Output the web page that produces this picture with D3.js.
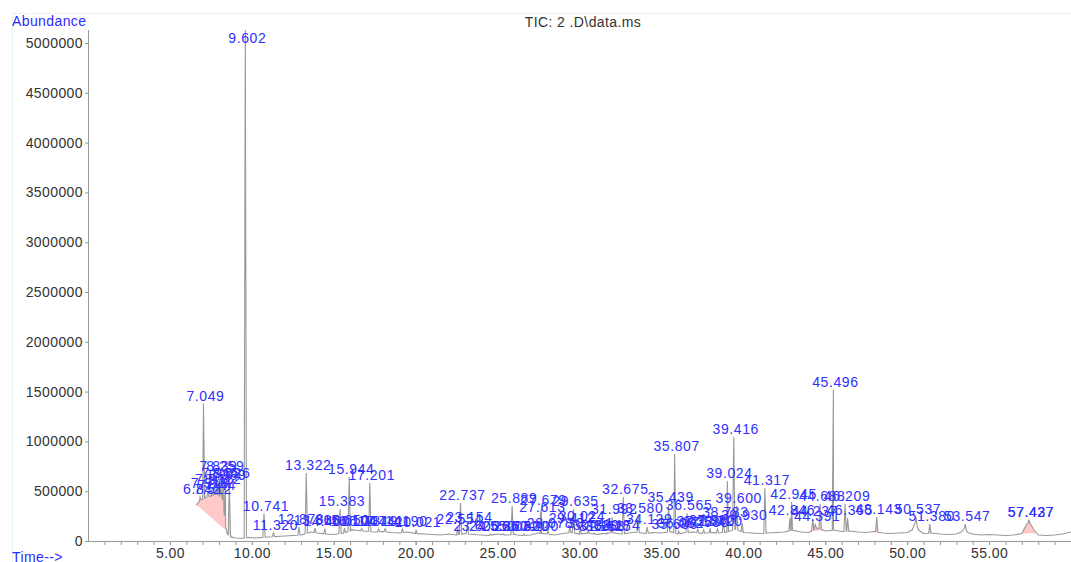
<!DOCTYPE html>
<html>
<head>
<meta charset="UTF-8">
<title>TIC: 2 .D\data.ms</title>
<script src="https://cdn.jsdelivr.net/npm/d3@7"></script>
<style>
    body{margin:0;background:#fff;}
    svg text{font-family:"Liberation Sans",Arial,sans-serif;}
    .frame{stroke:#e2f6e2;stroke-width:1;fill:none;}
    .blue{fill:#2b2bff;font-size:14px;letter-spacing:0.4px;}
    .titulo{fill:#333;font-size:14px;letter-spacing:0.4px;}
    .eje text{fill:#333;font-size:14px;letter-spacing:0.4px;}
    .eje line,.eje path{stroke:#9a9a9a;}
    .traza{fill:none;stroke:#999;stroke-width:1.1;}
    .integ{fill:#ff5a5a;opacity:0.33;}
    .pico{fill:#3030ff;font-size:14px;letter-spacing:0.6px;}
</style>
</head>
<body>
<div id="grafico"></div>
<script>
var w = 1071, h = 562;

// baseline of the TIC trace (min, abundance)
var baseT = [6.60, 6.80, 7.00, 7.20, 7.40, 7.60, 7.80, 8.00, 8.20, 8.30, 8.40, 8.50, 8.70, 9.00, 9.40, 9.80,
    10.2, 10.6, 11.0, 11.5, 12.0, 12.5, 13.0, 13.6, 14.0, 14.5, 15.0, 15.6, 16.2, 16.8, 17.5, 18.0, 18.5, 19.0,
    19.5, 20.0, 20.5, 21.0, 21.5, 22.0, 22.5, 23.0, 23.5, 24.0, 24.5, 25.0, 25.5, 26.0, 26.5, 27.0, 27.5, 28.0,
    28.5, 29.0, 29.5, 30.0, 30.5, 31.0, 31.5, 32.0, 32.5, 33.0, 33.5, 34.0, 34.5, 35.0, 35.5, 36.0, 36.5, 37.0,
    37.5, 38.0, 38.5, 39.0, 39.5, 40.0, 40.5, 41.0, 41.5, 42.0, 42.5, 43.0, 43.5, 44.0, 44.5, 45.0, 45.5, 46.0,
    46.5, 47.0, 47.5, 48.0, 48.5, 49.0, 49.5, 50.0, 50.3, 50.5, 50.7, 51.0, 51.5, 52.0, 52.5, 53.0, 53.3, 53.5,
    53.7, 54.0, 54.5, 55.0, 55.5, 56.0, 56.5, 57.0, 57.3, 57.5, 57.7, 58.0, 58.5, 59.0, 59.5, 60.0];
var baseV = [360000, 400000, 420000, 440000, 450000, 460000, 470000, 460000, 420000, 300000, 150000, 70000, 40000, 30000, 28000, 35000,
    30000, 35000, 40000, 45000, 50000, 55000, 60000, 90000, 80000, 70000, 65000, 80000, 110000, 100000, 90000, 95000, 85000, 80000,
    90000, 75000, 70000, 65000, 60000, 70000, 60000, 75000, 65000, 60000, 55000, 70000, 60000, 65000, 55000, 60000, 80000, 70000,
    60000, 75000, 85000, 70000, 80000, 65000, 75000, 85000, 70000, 80000, 90000, 75000, 85000, 80000, 95000, 70000, 85000, 90000,
    75000, 85000, 80000, 90000, 120000, 85000, 80000, 75000, 80000, 85000, 90000, 110000, 90000, 85000, 130000, 100000, 110000, 95000,
    100000, 90000, 85000, 95000, 80000, 75000, 80000, 85000, 110000, 190000, 110000, 75000, 80000, 70000, 65000, 70000, 90000, 130000,
    85000, 70000, 60000, 65000, 60000, 55000, 60000, 75000, 170000, 180000, 120000, 60000, 55000, 60000, 70000, 90000];

// labelled peaks: retention time and apex abundance
var pkTime = [6.842, 7.049, 7.318, 7.512, 7.572, 7.744, 7.839, 7.965, 8.112, 8.259, 8.389, 8.626, 9.602,
    10.741, 11.320, 12.878, 13.322, 13.860, 14.460, 15.383, 15.650, 15.944, 16.104, 16.704, 17.201, 17.741,
    18.141, 19.190, 20.021, 22.554, 22.737, 23.154, 23.600, 24.550, 25.350, 25.889, 26.032, 26.600, 27.200,
    27.613, 27.679, 28.078, 29.412, 29.635, 30.024, 30.541, 30.889, 31.268, 31.625, 31.992, 32.174, 32.675,
    33.580, 34.129, 35.439, 35.686, 35.807, 36.052, 36.565, 37.220, 37.580, 37.980, 38.420, 38.783, 39.024,
    39.416, 39.600, 39.930, 41.317, 42.846, 42.945, 44.237, 44.391, 44.688, 45.496, 46.209, 46.365, 48.143,
    50.537, 51.380, 53.547, 57.427, 57.437];
var pkAbund = [442000, 1380000, 502000, 442000, 542000, 482000, 673000, 602000, 542000, 673000, 582000, 600000, 5130000,
    275000, 80000, 140000, 683000, 130000, 125000, 321000, 130000, 643000, 120000, 125000, 582000, 120000,
    125000, 120000, 115000, 140000, 381000, 160000, 70000, 70000, 70000, 351000, 70000, 70000, 70000,
    261000, 331000, 100000, 150000, 321000, 171000, 100000, 80000, 70000, 70000, 241000, 80000, 442000,
    251000, 140000, 361000, 90000, 873000, 100000, 281000, 120000, 110000, 130000, 120000, 211000, 602000,
    1044000, 351000, 181000, 532000, 231000, 392000, 221000, 171000, 371000, 1516000, 371000, 231000, 241000,
    241000, 171000, 171000, 211000, 211000];

// integrated (shaded) ranges, minutes
var intFrom = [6.62, 13.75, 16.00, 22.45, 27.55, 29.35, 30.45, 32.10, 35.60, 36.00, 39.85, 44.15, 46.30, 48.05, 51.30, 57.00];
var intTo   = [8.95, 13.98, 16.25, 22.65, 27.75, 29.50, 30.62, 32.25, 35.75, 36.12, 40.00, 44.85, 46.45, 48.25, 51.50, 57.90];

var yTickVals = [0, 500000, 1000000, 1500000, 2000000, 2500000, 3000000, 3500000, 4000000, 4500000, 5000000];
var xTickVals = [5, 10, 15, 20, 25, 30, 35, 40, 45, 50, 55];
var yTop = 5130000;

var xScale = d3.scaleLinear().domain([0, 60]).range([88, 1071]);
var yScale = d3.scaleLinear().domain([0, 5000000]).range([541, 43]);
var base = d3.scaleLinear().domain(baseT).range(baseV).clamp(true);

// trace = baseline points + narrow spike for every peak
var half = 0.07;
var traza = baseT.map(function(t, i){ return [t, baseV[i]]; });
pkTime.forEach(function(t, i){
    traza.push([t - half, base(t - half)]);
    traza.push([t, pkAbund[i]]);
    traza.push([t + half, base(t + half)]);
});
traza.sort(function(a, b){ return a[0] - b[0]; });

var grafico = d3.select("#grafico").append("svg")
    .attr("width", w).attr("height", h);

// frame
grafico.append("path").attr("class", "frame")
    .attr("d", "M12.5,562V13.5H1071");

grafico.append("text").attr("class", "blue").attr("x", 12).attr("y", 26).text("Abundance");
grafico.append("text").attr("class", "blue").attr("x", 12).attr("y", 562).text("Time-->");
grafico.append("text").attr("class", "titulo").attr("x", 583).attr("y", 27)
    .attr("text-anchor", "middle").text("TIC: 2 .D\\data.ms");

// axes
var ejeY = grafico.append("g").attr("class", "eje")
    .attr("transform", "translate(88,0)")
    .call(d3.axisLeft(yScale).tickValues(yTickVals).tickSize(3).tickPadding(2).tickFormat(d3.format("d")));
ejeY.select(".domain").remove();
ejeY.append("line").attr("x1", 0.5).attr("x2", 0.5)
    .attr("y1", yScale(yTop)).attr("y2", yScale(0));

var ejeX = grafico.append("g").attr("class", "eje")
    .attr("transform", "translate(0,541)")
    .call(d3.axisBottom(xScale).tickValues(xTickVals).tickSize(4).tickPadding(3).tickFormat(d3.format(".2f")));
ejeX.select(".domain").attr("d", "M88,0.5H1071");
grafico.append("g").attr("class", "eje")
    .attr("transform", "translate(0,541)")
    .call(d3.axisBottom(xScale).tickValues(d3.range(1, 60)).tickSize(4).tickFormat(""))
    .select(".domain").remove();

// shaded integration areas
intFrom.forEach(function(a, i){
    var b = intTo[i];
    var pts = [[a, base(a)]].concat(traza.filter(function(p){ return p[0] > a && p[0] < b; }), [[b, base(b)]]);
    var cuerda = d3.scaleLinear().domain([a, b]).range([base(a), base(b)]);
    grafico.append("path").attr("class", "integ")
        .attr("d", d3.area()
            .x(function(p){ return xScale(p[0]); })
            .y0(function(p){ return yScale(cuerda(p[0])); })
            .y1(function(p){ return yScale(p[1]); })(pts));
});

// trace
grafico.append("path").attr("class", "traza")
    .attr("d", d3.line()
        .x(function(p){ return xScale(p[0]); })
        .y(function(p){ return yScale(p[1]); })(traza));

// peak labels
grafico.selectAll(".pico")
    .data(pkTime)
    .enter()
    .append("text")
    .attr("class", "pico")
    .attr("text-anchor", "middle")
    .attr("x", function(d){ return xScale(d) + 2; })
    .attr("y", function(d, i){ return Math.max(yScale(pkAbund[i]) - 3, 43); })
    .text(function(d){ return d.toFixed(3); });
</script>
</body>
</html>
